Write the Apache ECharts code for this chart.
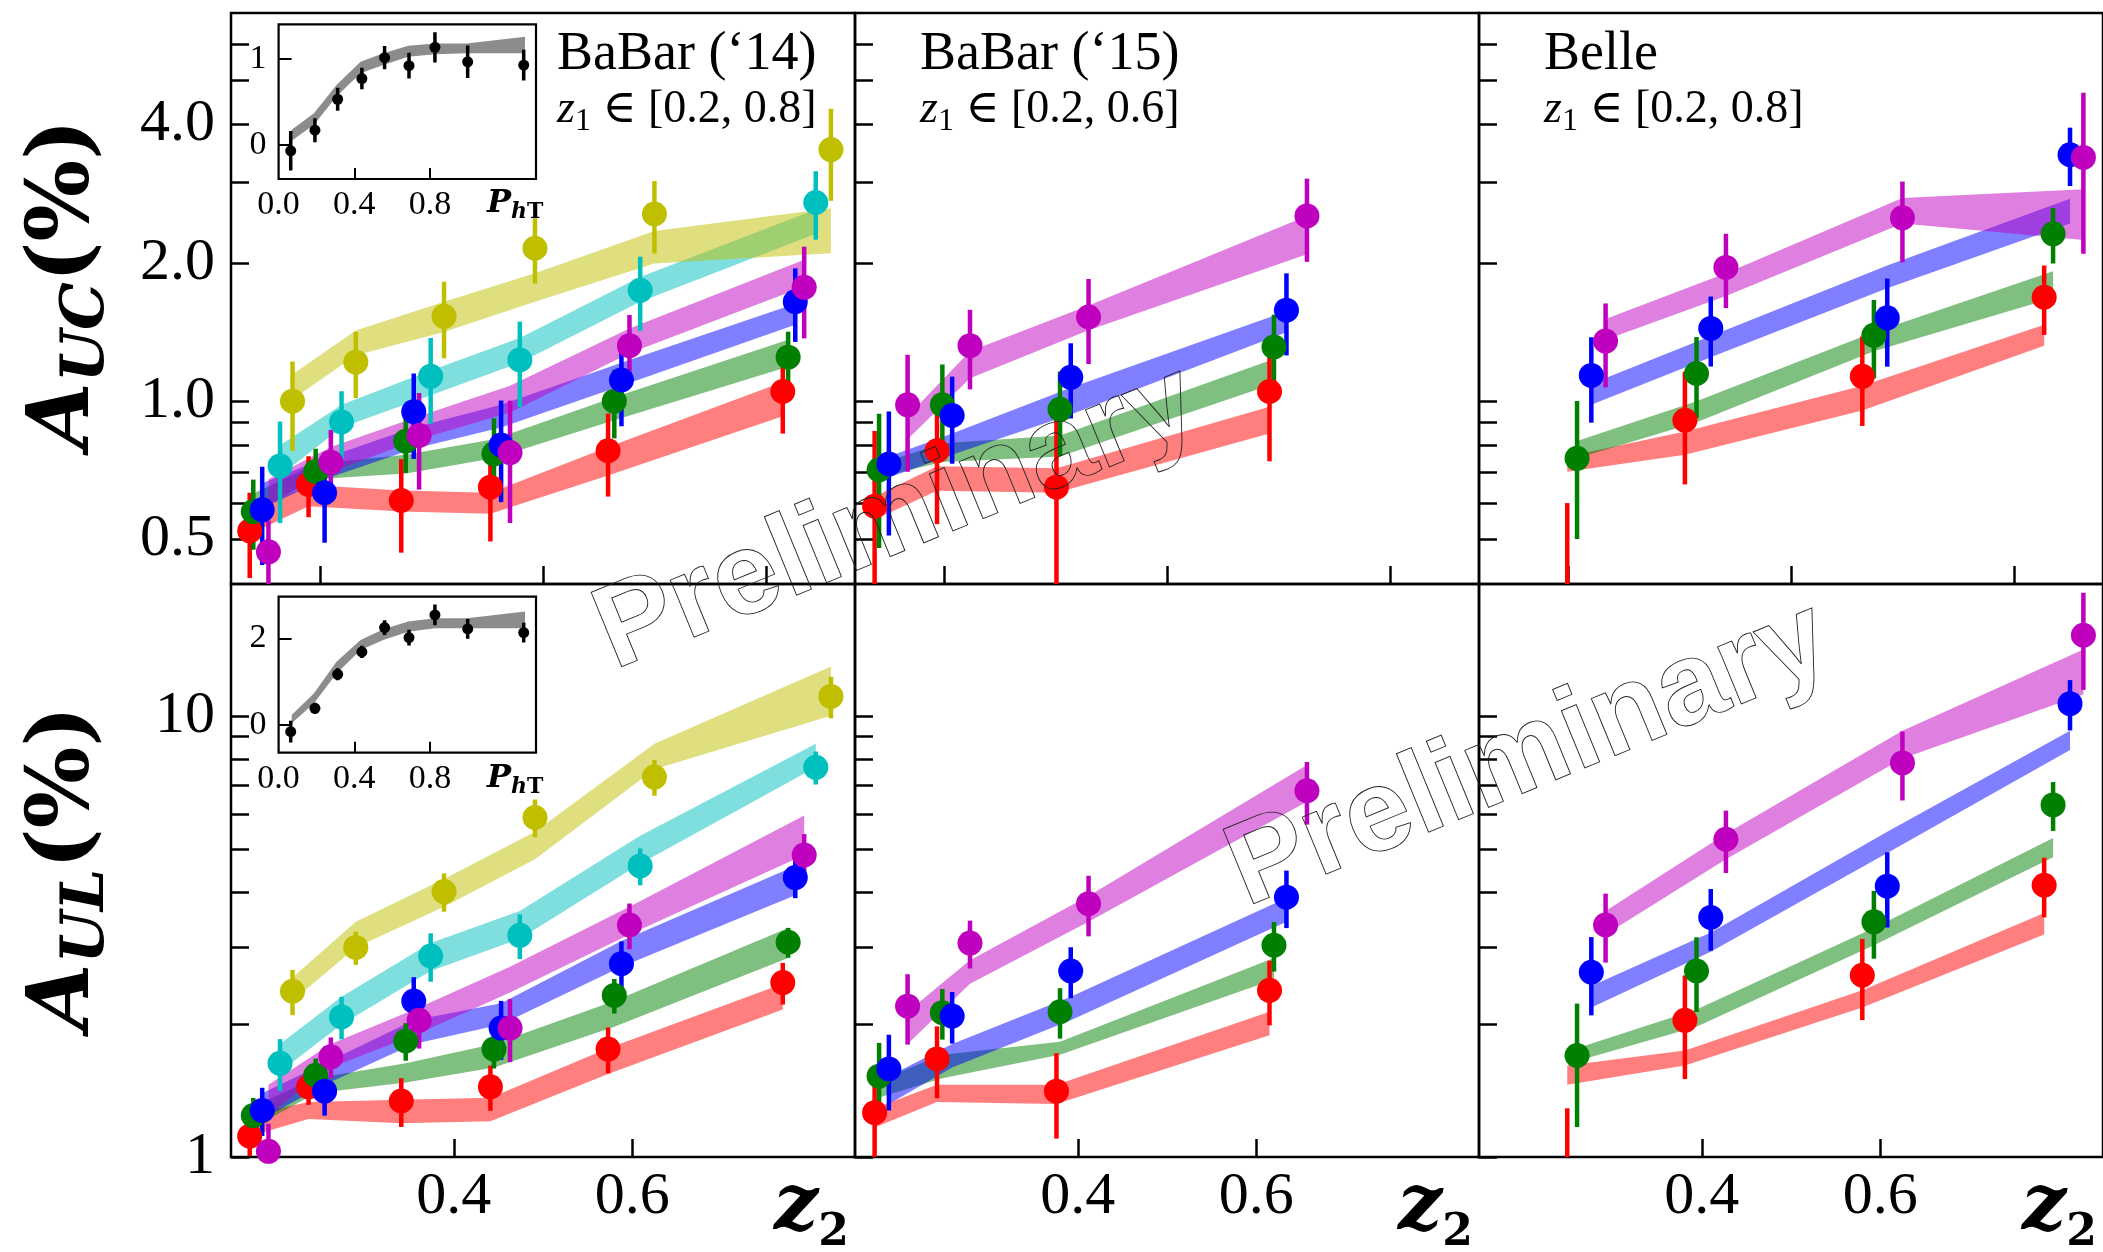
<!DOCTYPE html>
<html>
<head>
<meta charset="utf-8">
<script src="https://cdn.jsdelivr.net/npm/echarts@6/dist/echarts.min.js"></script>
<style>
  html, body { margin: 0; padding: 0; background: #fff; }
  #chart { width: 2103px; height: 1252px; }
</style>
</head>
<body>
<div id="chart"></div>
<script>
// rows: [z2, asymmetry (%), error, band low, band high]
const B14_UC_RED = [[0.171, 0.522, 0.11, 0.513, 0.575], [0.237, 0.659, 0.10, 0.591, 0.657], [0.341, 0.608, 0.14, 0.575, 0.639], [0.441, 0.650, 0.155, 0.569, 0.632], [0.573, 0.780, 0.16, 0.689, 0.795], [0.769, 1.050, 0.20, 0.927, 1.101]];
const B14_UC_GREEN = [[0.175, 0.575, 0.10, 0.574, 0.630], [0.245, 0.703, 0.085, 0.676, 0.730], [0.346, 0.818, 0.12, 0.696, 0.765], [0.445, 0.768, 0.15, 0.751, 0.826], [0.580, 1.000, 0.17, 0.909, 1.020], [0.775, 1.247, 0.17, 1.189, 1.360]];
const B14_UC_BLUE = [[0.185, 0.580, 0.14, 0.585, 0.663], [0.255, 0.632, 0.14, 0.676, 0.751], [0.355, 0.949, 0.20, 0.788, 0.876], [0.453, 0.803, 0.20, 0.876, 0.982], [0.588, 1.112, 0.23, 1.080, 1.212], [0.783, 1.646, 0.30, 1.467, 1.630]];
const B14_UC_MAGENTA = [[0.192, 0.470, 0.08, 0.597, 0.676], [0.262, 0.736, 0.13, 0.702, 0.795], [0.361, 0.842, 0.20, 0.826, 0.927], [0.463, 0.773, 0.23, 0.945, 1.080], [0.597, 1.321, 0.22, 1.271, 1.440], [0.793, 1.770, 0.40, 1.777, 2.032]];
const B14_UC_CYAN = [[0.205, 0.723, 0.18, 0.688, 0.802], [0.274, 0.901, 0.15, 0.876, 0.982], [0.374, 1.133, 0.24, 1.030, 1.166], [0.474, 1.230, 0.26, 1.212, 1.372], [0.609, 1.743, 0.32, 1.646, 1.864], [0.806, 2.707, 0.46, 2.314, 2.615]];
const B14_UC_YELLOW = [[0.219, 1.000, 0.22, 1.010, 1.144], [0.290, 1.216, 0.20, 1.259, 1.426], [0.389, 1.530, 0.29, 1.415, 1.647], [0.491, 2.153, 0.35, 1.646, 1.900], [0.625, 2.556, 0.46, 1.993, 2.346], [0.823, 3.530, 0.80, 2.100, 2.630]];

const B15_UC_RED = [[0.172, 0.591, 0.27, 0.553, 0.620], [0.242, 0.780, 0.24, 0.638, 0.722], [0.376, 0.650, 0.29, 0.632, 0.715], [0.615, 1.050, 0.31, 0.851, 0.972]];
const B15_UC_GREEN = [[0.177, 0.709, 0.23, 0.682, 0.730], [0.248, 0.982, 0.22, 0.737, 0.810], [0.380, 0.960, 0.20, 0.758, 0.842], [0.620, 1.313, 0.23, 1.091, 1.235]];
const B15_UC_BLUE = [[0.188, 0.730, 0.22, 0.682, 0.758], [0.259, 0.931, 0.20, 0.765, 0.850], [0.392, 1.127, 0.21, 0.936, 1.070], [0.634, 1.578, 0.32, 1.413, 1.569]];
const B15_UC_MAGENTA = [[0.209, 0.982, 0.28, 0.826, 0.927], [0.279, 1.321, 0.26, 1.122, 1.284], [0.412, 1.525, 0.32, 1.427, 1.615], [0.657, 2.531, 0.52, 2.090, 2.531]];

const BEL_UC_RED = [[0.249, 0.330, 0.27, 0.702, 0.758], [0.381, 0.909, 0.25, 0.765, 0.859], [0.580, 1.133, 0.25, 0.954, 1.080], [0.784, 1.684, 0.29, 1.321, 1.467]];
const BEL_UC_GREEN = [[0.260, 0.751, 0.25, 0.751, 0.819], [0.394, 1.149, 0.23, 0.900, 1.000], [0.593, 1.391, 0.27, 1.284, 1.413], [0.794, 2.314, 0.32, 1.678, 1.918]];
const BEL_UC_BLUE = [[0.276, 1.138, 0.24, 0.982, 1.091], [0.410, 1.440, 0.25, 1.247, 1.386], [0.608, 1.519, 0.33, 1.761, 1.974], [0.813, 3.440, 0.50, 2.436, 2.759]];
const BEL_UC_MAGENTA = [[0.292, 1.352, 0.28, 1.360, 1.510], [0.427, 1.955, 0.36, 1.694, 1.900], [0.625, 2.507, 0.50, 2.436, 2.770], [0.828, 3.394, 1.30, 2.244, 2.894]];

const B14_UL_RED = [[0.171, 1.115, 0.11, 1.115, 1.247], [0.237, 1.443, 0.13, 1.220, 1.334], [0.341, 1.340, 0.17, 1.193, 1.349], [0.441, 1.443, 0.17, 1.206, 1.364], [0.573, 1.758, 0.21, 1.543, 1.766], [0.769, 2.489, 0.27, 2.161, 2.473]];
const B14_UL_GREEN = [[0.175, 1.242, 0.12, 1.166, 1.304], [0.245, 1.533, 0.14, 1.395, 1.509], [0.346, 1.834, 0.18, 1.476, 1.632], [0.445, 1.758, 0.17, 1.596, 1.806], [0.580, 2.327, 0.21, 1.975, 2.260], [0.775, 3.073, 0.24, 2.830, 3.310]];
const B14_UL_BLUE = [[0.185, 1.276, 0.16, 1.220, 1.395], [0.255, 1.411, 0.17, 1.459, 1.633], [0.355, 2.260, 0.30, 1.806, 2.043], [0.453, 1.962, 0.30, 1.998, 2.235], [0.588, 2.748, 0.34, 2.704, 3.094], [0.783, 4.310, 0.44, 3.930, 4.580]];
const B14_UL_MAGENTA = [[0.192, 1.030, 0.16, 1.247, 1.459], [0.262, 1.688, 0.18, 1.596, 1.806], [0.361, 2.043, 0.28, 1.910, 2.186], [0.463, 1.962, 0.32, 2.364, 2.704], [0.597, 3.363, 0.40, 3.200, 3.700], [0.793, 4.850, 0.56, 4.850, 5.960]];
const B14_UL_CYAN = [[0.205, 1.632, 0.22, 1.561, 1.806], [0.274, 2.080, 0.23, 1.998, 2.311], [0.374, 2.860, 0.36, 2.644, 3.060], [0.474, 3.186, 0.37, 3.130, 3.620], [0.609, 4.580, 0.44, 4.630, 5.360], [0.806, 7.670, 0.66, 7.670, 8.680]];
const B14_UL_YELLOW = [[0.219, 2.379, 0.28, 2.260, 2.557], [0.290, 2.991, 0.26, 2.991, 3.422], [0.389, 4.005, 0.40, 3.700, 4.280], [0.491, 5.900, 0.58, 4.740, 5.480], [0.625, 7.290, 0.68, 7.590, 8.680], [0.823, 11.11, 1.20, 10.05, 13.00]];

const B15_UL_RED = [[0.172, 1.261, 0.30, 1.166, 1.290], [0.242, 1.670, 0.31, 1.334, 1.459], [0.376, 1.411, 0.31, 1.319, 1.459], [0.615, 2.390, 0.40, 1.889, 2.137]];
const B15_UL_GREEN = [[0.177, 1.526, 0.29, 1.365, 1.493], [0.248, 2.127, 0.28, 1.509, 1.707], [0.380, 2.137, 0.28, 1.707, 1.826], [0.620, 3.026, 0.39, 2.528, 2.830]];
const B15_UL_BLUE = [[0.188, 1.585, 0.31, 1.319, 1.526], [0.259, 2.089, 0.28, 1.596, 1.806], [0.392, 2.644, 0.35, 2.043, 2.311], [0.634, 3.890, 0.58, 3.422, 3.873]];
const B15_UL_MAGENTA = [[0.209, 2.200, 0.40, 1.806, 2.137], [0.279, 3.060, 0.38, 2.473, 2.797], [0.412, 3.760, 0.59, 3.422, 3.915], [0.657, 6.785, 1.10, 6.410, 7.760]];

const BEL_UL_RED = [[0.249, 0.850, 0.44, 1.459, 1.614], [0.381, 2.043, 0.54, 1.614, 1.746], [0.580, 2.586, 0.54, 2.186, 2.390], [0.784, 4.140, 0.64, 3.200, 3.580]];
const BEL_UL_GREEN = [[0.260, 1.700, 0.53, 1.651, 1.766], [0.394, 2.644, 0.51, 1.975, 2.161], [0.593, 3.420, 0.60, 3.026, 3.310], [0.794, 6.300, 0.80, 4.790, 5.300]];
const BEL_UL_BLUE = [[0.276, 2.627, 0.53, 2.186, 2.444], [0.410, 3.500, 0.56, 2.926, 3.236], [0.608, 4.120, 0.80, 4.900, 5.480], [0.813, 10.70, 1.40, 8.400, 9.290]];
const BEL_UL_MAGENTA = [[0.292, 3.363, 0.60, 3.200, 3.620], [0.427, 5.265, 0.85, 4.740, 5.420], [0.625, 7.850, 1.40, 8.030, 9.290], [0.828, 15.30, 3.80, 11.23, 14.20]];

// insets: P_hT dependence
const INSET_PHT = [0.064, 0.192, 0.312, 0.44, 0.56, 0.689, 0.826, 0.999, 1.295];
const INSET_UC = [-0.072, 0.168, 0.528, 0.768, 1.012, 0.919, 1.132, 0.964, 0.925];
const INSET_UC_ERR = [0.23, 0.14, 0.135, 0.125, 0.135, 0.15, 0.176, 0.19, 0.18];
const INSET_UL = [-0.154, 0.385, 1.17, 1.686, 2.247, 2.016, 2.54, 2.217, 2.131];
const INSET_UL_ERR = [0.25, 0.13, 0.14, 0.14, 0.17, 0.18, 0.24, 0.23, 0.23];
const INSET_BAND_PHT = [0.069, 0.187, 0.306, 0.433, 0.553, 0.685, 0.826, 0.993, 1.302];
const INSET_UC_LO = [0.044, 0.23, 0.559, 0.83, 0.927, 1.023, 1.051, 1.062, 1.062];
const INSET_UC_HI = [0.172, 0.366, 0.694, 0.965, 1.062, 1.151, 1.178, 1.178, 1.256];
const INSET_UL_LO = [0.04, 0.5, 1.19, 1.73, 1.96, 2.15, 2.23, 2.23, 2.23];
const INSET_UL_HI = [0.23, 0.73, 1.46, 1.96, 2.21, 2.39, 2.46, 2.46, 2.62];

// axis ticks and labels
const X_TICKS_TOP = [0.25, 0.5, 0.75];
const X_TICKS_BOTTOM = [0.4, 0.6];
const UC_TICKS = [0.5, 0.6, 0.7, 0.8, 0.9, 1, 2, 3, 4, 5, 6];
const UC_LABEL_VALUES = [0.5, 1, 2, 4];
const UC_LABELS = ['0.5', '1.0', '2.0', '4.0'];
const UL_TICKS = [1, 2, 3, 4, 5, 6, 7, 8, 9, 10];
const UL_LABEL_VALUES = [1, 10];
const UL_LABELS = ['1', '10'];
const TITLES = ['BaBar (‘14)', 'BaBar (‘15)', 'Belle'];
const Z1_RANGES = ['[0.2, 0.8]', '[0.2, 0.6]', '[0.2, 0.8]'];

const RGB = { red: [255, 0, 0], green: [0, 128, 0], blue: [0, 0, 255], magenta: [191, 0, 191], cyan: [0, 191, 191], yellow: [191, 191, 0] };

const PANELS = [
  { row: 0, col: 0, sets: [['red', B14_UC_RED], ['green', B14_UC_GREEN], ['blue', B14_UC_BLUE], ['magenta', B14_UC_MAGENTA], ['cyan', B14_UC_CYAN], ['yellow', B14_UC_YELLOW]] },
  { row: 0, col: 1, sets: [['red', B15_UC_RED], ['green', B15_UC_GREEN], ['blue', B15_UC_BLUE], ['magenta', B15_UC_MAGENTA]] },
  { row: 0, col: 2, sets: [['red', BEL_UC_RED], ['green', BEL_UC_GREEN], ['blue', BEL_UC_BLUE], ['magenta', BEL_UC_MAGENTA]] },
  { row: 1, col: 0, sets: [['red', B14_UL_RED], ['green', B14_UL_GREEN], ['blue', B14_UL_BLUE], ['magenta', B14_UL_MAGENTA], ['cyan', B14_UL_CYAN], ['yellow', B14_UL_YELLOW]] },
  { row: 1, col: 1, sets: [['red', B15_UL_RED], ['green', B15_UL_GREEN], ['blue', B15_UL_BLUE], ['magenta', B15_UL_MAGENTA]] },
  { row: 1, col: 2, sets: [['red', BEL_UL_RED], ['green', BEL_UL_GREEN], ['blue', BEL_UL_BLUE], ['magenta', BEL_UL_MAGENTA]] }
];

const SERIF = "'Liberation Serif', 'DejaVu Serif', serif";
const MATH = "'DejaVu Serif', serif";
const GRID_LEFT = [231, 855, 1479];
const GRID_W = 624;
const ROW_TOP = [13, 584];
const ROW_H = [571, 573];
const Y_RANGE = [[0.4, 7], [1, 20]];

function rgba(name, a) {
  const c = RGB[name];
  return 'rgba(' + c[0] + ',' + c[1] + ',' + c[2] + ',' + a + ')';
}

function pickLabel(values, labels) {
  return function (v) {
    for (let i = 0; i < values.length; i++) {
      if (Math.abs(values[i] - v) < 1e-6 * Math.max(1, Math.abs(v))) return labels[i];
    }
    return '';
  };
}

// band = [[x, lo, hi], ...] drawn as one filled polygon
function bandSeries(idx, band, fill) {
  return {
    type: 'custom', xAxisIndex: idx, yAxisIndex: idx, silent: true, clip: true, z: 2,
    data: band,
    renderItem: function (params, api) {
      if (params.dataIndex !== 0) return;
      const upper = band.map(b => api.coord([b[0], b[2]]));
      const lower = band.map(b => api.coord([b[0], b[1]])).reverse();
      return { type: 'polygon', shape: { points: upper.concat(lower) }, style: { fill: fill } };
    }
  };
}

function errSeries(idx, pts, color, width, yMin, yMax) {
  return {
    type: 'custom', xAxisIndex: idx, yAxisIndex: idx, silent: true, clip: true, z: 3,
    data: pts,
    renderItem: function (params, api) {
      const x = api.value(0), v = api.value(1), e = api.value(2);
      const lo = Math.max(v - e, yMin), hi = Math.min(v + e, yMax);
      if (hi <= lo) return;
      const a = api.coord([x, lo]), b = api.coord([x, hi]);
      return { type: 'line', shape: { x1: a[0], y1: a[1], x2: b[0], y2: b[1] }, style: { stroke: color, lineWidth: width } };
    }
  };
}

function pointSeries(idx, pts, color, size) {
  return {
    type: 'scatter', xAxisIndex: idx, yAxisIndex: idx, silent: true, clip: true, z: 3,
    symbol: 'circle', symbolSize: size,
    data: pts.map(p => [p[0], p[1]]),
    itemStyle: { color: color, opacity: 1 }
  };
}

const grids = [], xAxes = [], yAxes = [], series = [];

PANELS.forEach((p, i) => {
  grids.push({ left: GRID_LEFT[p.col], top: ROW_TOP[p.row], width: GRID_W, height: ROW_H[p.row],
    show: true, borderColor: '#000', borderWidth: 2.5, backgroundColor: 'transparent' });
  xAxes.push({
    type: 'value', gridIndex: i, min: 0.15, max: 0.85,
    axisLine: { show: false, onZero: false }, splitLine: { show: false },
    axisTick: { show: true, inside: true, length: 18, lineStyle: { color: '#000', width: 2.5 },
      customValues: p.row === 0 ? X_TICKS_TOP : X_TICKS_BOTTOM },
    axisLabel: { show: p.row === 1, customValues: X_TICKS_BOTTOM, formatter: v => v.toFixed(1),
      fontFamily: SERIF, fontSize: 60, color: '#000', margin: 10 }
  });
  const yr = Y_RANGE[p.row];
  yAxes.push({
    type: 'log', logBase: 10, gridIndex: i, min: yr[0], max: yr[1],
    axisLine: { show: false, onZero: false }, splitLine: { show: false }, minorTick: { show: false },
    axisTick: { show: true, inside: true, length: 18, lineStyle: { color: '#000', width: 2.5 },
      customValues: p.row === 0 ? UC_TICKS : UL_TICKS },
    axisLabel: { show: p.col === 0,
      customValues: p.row === 0 ? UC_LABEL_VALUES : UL_LABEL_VALUES,
      formatter: p.row === 0 ? pickLabel(UC_LABEL_VALUES, UC_LABELS) : pickLabel(UL_LABEL_VALUES, UL_LABELS),
      fontFamily: SERIF, fontSize: 60, color: '#000', margin: 16 }
  });
  p.sets.forEach(s => {
    series.push(bandSeries(i, s[1].map(r => [r[0], r[3], r[4]]), rgba(s[0], 0.5)));
  });
  p.sets.forEach(s => {
    series.push(errSeries(i, s[1].map(r => [r[0], r[1], r[2]]), rgba(s[0], 1), 4.5, yr[0], yr[1]));
    series.push(pointSeries(i, s[1], rgba(s[0], 1), 25));
  });
});

// insets
const INSETS = [
  { top: 24.3, height: 154.7, min: -0.4, max: 1.4, ticks: [0, 1], vals: INSET_UC, errs: INSET_UC_ERR, lo: INSET_UC_LO, hi: INSET_UC_HI },
  { top: 596.7, height: 156, min: -0.64, max: 2.96, ticks: [0, 2], vals: INSET_UL, errs: INSET_UL_ERR, lo: INSET_UL_LO, hi: INSET_UL_HI }
];
INSETS.forEach((ins, k) => {
  const idx = PANELS.length + k;
  grids.push({ left: 278.6, top: ins.top, width: 257.4, height: ins.height,
    show: true, borderColor: '#000', borderWidth: 2.2, backgroundColor: '#fff' });
  xAxes.push({
    type: 'value', gridIndex: idx, min: 0, max: 1.36,
    axisLine: { show: false, onZero: false }, splitLine: { show: false },
    axisTick: { show: true, inside: true, length: 11, lineStyle: { color: '#000', width: 2 }, customValues: [0.4, 0.8] },
    axisLabel: { customValues: [0, 0.4, 0.8], formatter: v => v.toFixed(1), fontFamily: SERIF, fontSize: 34, color: '#000', margin: 9 }
  });
  yAxes.push({
    type: 'value', gridIndex: idx, min: ins.min, max: ins.max,
    axisLine: { show: false, onZero: false }, splitLine: { show: false },
    axisTick: { show: true, inside: true, length: 13, lineStyle: { color: '#000', width: 2 }, customValues: ins.ticks },
    axisLabel: { customValues: ins.ticks, formatter: v => String(Math.round(v)), fontFamily: SERIF, fontSize: 34, color: '#000', margin: 12 }
  });
  series.push(bandSeries(idx, INSET_BAND_PHT.map((x, j) => [x, ins.lo[j], ins.hi[j]]), 'rgba(0,0,0,0.45)'));
  const pts = INSET_PHT.map((x, j) => [x, ins.vals[j], ins.errs[j]]);
  series.push(errSeries(idx, pts, '#000', 3.5, ins.min, ins.max));
  series.push(pointSeries(idx, pts, '#000', 11));
});

// texts
const graphics = [];
function txt(x, y, style, extra) {
  const el = Object.assign({ type: 'text', x: x, y: y, silent: true, z: 50,
    style: Object.assign({ fill: '#000', align: 'left', verticalAlign: 'middle' }, style) }, extra || {});
  graphics.push(el);
}
const TITLE_X = [557, 920, 1544];
TITLES.forEach((t, c) => {
  txt(TITLE_X[c], 55, { text: t, fontFamily: SERIF, fontSize: 54 });
  txt(TITLE_X[c], 110, {
    text: '{z|z}{s|1}{t| ∈ ' + Z1_RANGES[c] + '}',
    rich: {
      z: { fontFamily: SERIF, fontStyle: 'italic', fontSize: 46, lineHeight: 55, verticalAlign: 'middle', fill: '#000' },
      s: { fontFamily: SERIF, fontSize: 32, lineHeight: 33, verticalAlign: 'bottom', fill: '#000' },
      t: { fontFamily: SERIF, fontSize: 46, lineHeight: 55, verticalAlign: 'middle', fill: '#000' }
    }
  });
});

const yNameRich = {
  a: { fontFamily: MATH, fontStyle: 'italic', fontWeight: 'bold', fontSize: 86, lineHeight: 103, verticalAlign: 'middle', fill: '#000' },
  s: { fontFamily: MATH, fontStyle: 'italic', fontWeight: 'bold', fontSize: 60, lineHeight: 62, verticalAlign: 'bottom', fill: '#000' },
  b: { fontFamily: MATH, fontWeight: 'bold', fontSize: 86, lineHeight: 103, verticalAlign: 'middle', fill: '#000' }
};
txt(66, 284, { text: '{a|A}{s|UC}{b|(%)}', align: 'center', rich: yNameRich }, { rotation: Math.PI / 2 });
txt(66, 868, { text: '{a|A}{s|UL}{b|(%)}', align: 'center', rich: yNameRich }, { rotation: Math.PI / 2 });

GRID_LEFT.forEach(l => {
  txt(l + GRID_W - 81, 1209, {
    text: '{z|z}{s|2}',
    rich: {
      z: { fontFamily: MATH, fontStyle: 'italic', fontWeight: 'bold', fontSize: 78, lineHeight: 94, verticalAlign: 'middle', fill: '#000' },
      s: { fontFamily: MATH, fontWeight: 'bold', fontSize: 44, lineHeight: 44, verticalAlign: 'bottom', fill: '#000' }
    }
  });
});

[204, 779].forEach(y => {
  txt(487, y, {
    text: '{p|P}{h|h}{t|T}',
    rich: {
      p: { fontFamily: MATH, fontStyle: 'italic', fontWeight: 'bold', fontSize: 32, lineHeight: 38, verticalAlign: 'middle', fill: '#000' },
      h: { fontFamily: MATH, fontStyle: 'italic', fontWeight: 'bold', fontSize: 22, lineHeight: 22, verticalAlign: 'bottom', fill: '#000' },
      t: { fontFamily: MATH, fontWeight: 'bold', fontSize: 22, lineHeight: 22, verticalAlign: 'bottom', fill: '#000' }
    }
  });
});

// watermark
[[897, 519], [1529, 756]].forEach(c => {
  txt(c[0], c[1], {
    text: 'Preliminary', fontFamily: "'Liberation Sans', Arial, sans-serif", fontWeight: 'bold', fontSize: 117,
    fill: 'rgba(0,0,0,0)', stroke: '#222', lineWidth: 0.9, align: 'center'
  }, { rotation: 22.3 * Math.PI / 180, z: 100 });
});

const chart = echarts.init(document.getElementById('chart'));
chart.setOption({
  animation: false,
  backgroundColor: '#fff',
  grid: grids,
  xAxis: xAxes,
  yAxis: yAxes,
  series: series,
  graphic: { elements: graphics }
});
</script>
</body>
</html>
